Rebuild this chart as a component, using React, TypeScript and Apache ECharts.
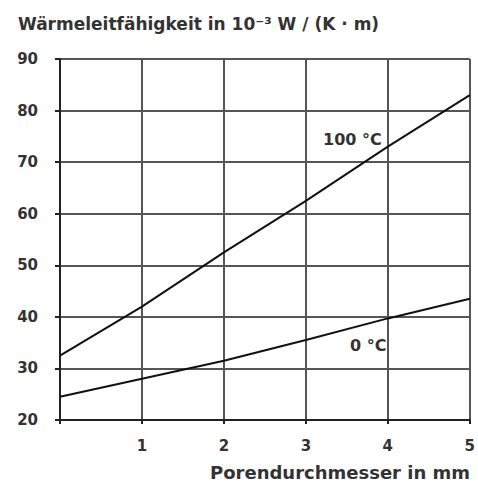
import React, { useEffect, useRef } from "react";
import * as echarts from "echarts";

const xValues = [0, 1, 2, 3, 4, 5];
const series100 = [32.5, 42, 52.5, 62.5, 73, 83];
const series0 = [24.5, 28, 31.5, 35.5, 39.7, 43.5];
const titleText = "Wärmeleitfähigkeit in 10\u207B\u00B3 W / (K · m)";
const xName = "Porendurchmesser in mm";
const label100 = "100 °C";
const label0 = "0 °C";

export default function App() {
  const ref = useRef<HTMLDivElement>(null);
  useEffect(() => {
    const chart = echarts.init(ref.current!, null, { renderer: "svg" });
    const font = "DejaVu Sans";
    chart.setOption({
      animation: false,
      backgroundColor: "#ffffff",
      title: {
        text: titleText,
        left: 13,
        top: 10,
        textStyle: { fontFamily: font, fontWeight: "bold", fontSize: 17, color: "#333" },
      },
      grid: { left: 60, right: 4, top: 59, bottom: 66 },
      xAxis: {
        type: "value",
        min: 0,
        max: 5,
        interval: 1,
        axisLine: { show: true, lineStyle: { color: "#222", width: 2 } },
        axisTick: { show: true, length: 4, lineStyle: { color: "#222", width: 2 } },
        axisLabel: {
          margin: 18,
          fontFamily: font,
          fontWeight: "bold",
          fontSize: 15,
          color: "#333",
          formatter: (v: number) => (v === 0 ? "" : String(v)),
        },
        splitLine: { show: true, lineStyle: { color: "#555", width: 2 } },
      },
      yAxis: {
        type: "value",
        min: 20,
        max: 90,
        interval: 10,
        axisLine: { show: true, lineStyle: { color: "#222", width: 2 } },
        axisTick: { show: true, length: 5, lineStyle: { color: "#222", width: 2 } },
        axisLabel: { margin: 22, fontFamily: font, fontWeight: "bold", fontSize: 15, color: "#333" },
        splitLine: { show: true, lineStyle: { color: "#555", width: 2 } },
      },
      series: [
        {
          type: "line",
          data: xValues.map((x, i) => [x, series100[i]]),
          symbol: "none",
          lineStyle: { color: "#111", width: 2 },
          z: 5,
        },
        {
          type: "line",
          data: xValues.map((x, i) => [x, series0[i]]),
          symbol: "none",
          lineStyle: { color: "#111", width: 2 },
          z: 5,
        },
      ],
      graphic: [
        {
          type: "text",
          left: 323,
          top: 131,
          style: { text: label100, font: `bold 16px ${font}`, fill: "#333" },
        },
        {
          type: "text",
          left: 350,
          top: 337,
          style: { text: label0, font: `bold 16px ${font}`, fill: "#333" },
        },
        {
          type: "text",
          left: 210,
          top: 463,
          style: { text: xName, font: `bold 18px ${font}`, fill: "#333" },
        },
      ],
    });
    return () => chart.dispose();
  }, []);
  return (
    <div
      ref={ref}
      style={{ position: "fixed", left: 0, top: 0, width: 478, height: 486 }}
    />
  );
}
